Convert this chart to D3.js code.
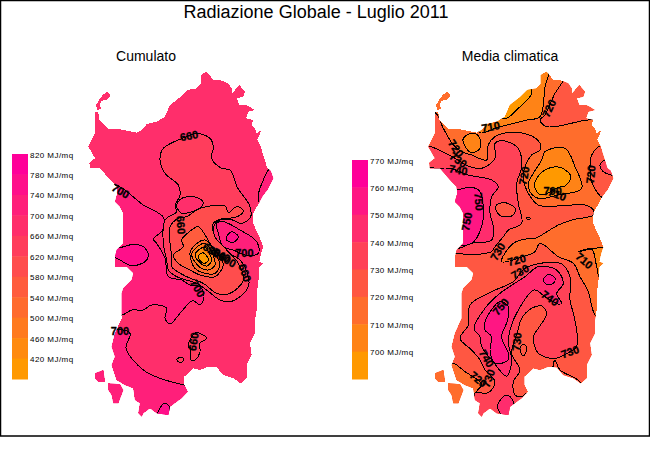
<!DOCTYPE html>
<html>
<head>
<meta charset="utf-8">
<script src="https://cdn.jsdelivr.net/npm/d3@7"></script>
<style>
    html, body { margin: 0; padding: 0; background: white; }
    svg { display: block; font-family: "Liberation Sans", Arial, sans-serif; }
    .isoline { stroke: black; stroke-width: 1; stroke-linejoin: round; shape-rendering: crispEdges; }
    .land { shape-rendering: crispEdges; }
    .contour-label { font-size: 11px; font-weight: bold; text-anchor: middle; dominant-baseline: central; stroke: black; stroke-width: 0.3; }
    .legend-label { font-size: 8px; letter-spacing: 0.45px; dominant-baseline: central; }
</style>
</head>
<body>
<div id="chart"></div>
<script>
const title = "Radiazione Globale - Luglio 2011";
const panelTitles = ["Cumulato", "Media climatica"];
const unit = "MJ/mq";

// legend ticks, top to bottom
const cumulatoTicks = [820, 780, 740, 700, 660, 620, 580, 540, 500, 460, 420];
const climaTicks = [770, 760, 750, 740, 730, 720, 710, 700];

// coast outlines, in map units (3 units = 1 screen pixel)
const coastMain = [[285,95],[295,97],[297,120],[312,135],[325,148],[360,148],[410,158],[428,148],[440,132],[470,125],[495,110],[510,75],[540,52],[562,30],[590,25],[602,12],[602,-15],[620,-25],[640,0],[660,0],[685,10],[695,25],[695,42],[718,15],[735,35],[730,50],[710,55],[718,75],[735,75],[745,78],[765,90],[745,95],[738,115],[760,120],[755,135],[765,145],[770,160],[785,150],[772,178],[782,200],[792,232],[802,265],[812,272],[820,295],[802,330],[790,345],[775,372],[760,400],[760,432],[778,470],[790,500],[782,525],[778,545],[790,550],[778,560],[775,610],[770,640],[770,690],[765,720],[765,760],[750,790],[755,825],[740,855],[740,895],[722,910],[700,895],[670,885],[650,862],[625,860],[600,870],[580,865],[553,890],[553,915],[563,935],[545,955],[530,965],[510,980],[505,1005],[470,1000],[450,985],[430,1000],[425,1010],[415,1000],[420,970],[405,960],[400,925],[375,915],[350,900],[335,855],[345,830],[335,800],[345,760],[365,715],[365,640],[370,625],[395,600],[400,580],[380,560],[345,560],[345,530],[350,510],[370,490],[370,400],[360,380],[345,365],[352,340],[350,320],[335,305],[300,265],[270,265],[268,248],[285,235],[265,200],[285,160]];
const coastAsinara = [[308,45],[322,34],[332,48],[320,60],[305,62],[298,75],[304,85],[292,90],[288,75],[296,62]];
const coastSanPietro = [[285,880],[310,870],[315,905],[295,905],[285,895]];
const coastAntioco = [[325,910],[360,913],[370,930],[355,970],[340,970],[335,945],[325,930]];
const coasts = [coastMain, coastAsinara, coastSanPietro, coastAntioco];

// Cumulato: radiation inside each isoline, painted in order over the base value
const cumulatoBase = 680;
const cumulatoValues = [720, 720, 720, 760, 760, 640, 640, 640, 680, 720, 760, 600, 560, 520, 480, 440, 400];
const cumulatoRings = [
    [[345,315],[430,375],[490,412],[488,450],[460,478],[470,490],[495,535],[505,590],[545,600],[570,615],[600,620],[612,650],[600,675],[578,662],[540,700],[510,732],[495,715],[500,685],[455,675],[430,690],[395,690],[367,705],[320,705],[250,500],[300,340]],
    [[340,750],[390,760],[378,805],[430,870],[480,895],[553,915],[620,930],[640,1050],[300,1050],[270,800]],
    [[808,268],[790,300],[775,345],[780,372],[850,380],[850,268]],
    [[475,995],[490,972],[505,975],[507,1010],[470,1015]],
    [[445,525],[435,545],[395,557],[360,540],[335,525],[335,505],[360,503],[395,494],[430,500]],
    [[555,172],[590,160],[630,175],[640,200],[635,235],[665,265],[690,270],[712,322],[748,375],[752,410],[725,430],[690,418],[650,425],[640,450],[650,500],[720,540],[745,590],[745,620],[720,650],[690,665],[660,660],[620,630],[590,610],[530,590],[505,570],[500,540],[490,490],[495,420],[530,395],[525,378],[540,345],[535,315],[495,280],[480,240],[490,205]],
    [[590,758],[620,775],[600,790],[600,815],[585,840],[572,840],[572,805],[565,800],[575,770]],
    [[530,838],[545,832],[552,840],[540,848]],
    [[530,378],[545,355],[590,352],[610,368],[598,385],[565,398],[545,400]],
    [[655,460],[650,430],[670,425],[720,450],[770,485],[775,520],[735,525],[700,510],[670,500]],
    [[680,470],[695,455],[715,470],[700,487],[680,480]],
    [[560,410],[600,385],[675,378],[685,398],[710,380],[730,392],[712,410],[660,418],[640,430],[645,470],[680,510],[715,550],[730,600],[690,640],[650,640],[610,610],[560,590],[515,560],[515,530],[510,490],[510,440],[535,415]],
    [[550,500],[545,480],[575,450],[595,440],[630,490],[640,505],[660,530],[670,555],[645,590],[600,585],[570,570],[535,550],[520,525]],
    [[570,520],[585,495],[615,480],[635,500],[650,530],[660,555],[645,580],[615,580],[585,565]],
    [[575,525],[590,502],[615,490],[632,510],[642,535],[645,555],[625,570],[600,562]],
    [[585,525],[598,508],[615,502],[628,520],[635,542],[620,558],[600,548]],
    [[595,530],[608,518],[620,528],[625,542],[612,550],[600,542]]
];
const cumulatoLabels = ["660", "700", "660", "700", "700", "660", "700", "660", "620", "580", "540", "500"];
const cumulatoLabelSpots = [[567,167],[362,333],[543,435],[360,753],[593,625],[735,578],[733,520],[580,785],[635,510],[650,520],[665,525],[682,540]];
const cumulatoLabelAngles = [-10, 30, 85, 0, 60, 70, 0, -80, 30, 30, 30, 30];

// Media climatica
const climaBase = 715;
const climaValues = [705, 695, 705, 725, 725, 735, 725, 745, 755, 705, 695, 725, 735, 725, 735, 725, 745, 755, 755, 745, 725, 715, 705];
const climaRings = [
    [[465,158],[515,143],[585,125],[605,120],[645,110],[660,20],[670,-30],[560,-30],[450,100]],
    [[620,25],[618,45],[580,85],[545,115],[530,115],[500,50],[600,0]],
    [[415,175],[440,160],[462,170],[465,205],[440,218],[418,195]],
    [[715,0],[690,40],[660,105],[645,120],[665,140],[775,122],[810,118],[900,118],[850,-40],[720,-40]],
    [[330,98],[355,145],[385,195],[410,215],[440,225],[485,240],[490,195],[510,170],[560,157],[620,168],[645,190],[645,210],[620,225],[600,260],[595,295],[610,340],[640,375],[700,378],[780,375],[805,390],[805,405],[740,420],[700,435],[650,465],[630,475],[615,475],[565,490],[530,545],[595,530],[630,515],[645,490],[700,530],[745,550],[765,590],[790,635],[815,710],[900,710],[900,1100],[250,1100],[250,98]],
    [[312,198],[385,232],[430,258],[470,265],[510,235],[510,190],[530,182],[560,190],[580,205],[590,260],[575,310],[580,370],[590,430],[550,450],[535,470],[510,500],[500,515],[480,520],[440,525],[395,520],[300,520],[300,198]],
    [[515,375],[540,368],[570,385],[565,405],[535,410],[515,395]],
    [[335,265],[375,265],[430,285],[500,300],[520,320],[500,350],[495,400],[505,440],[500,480],[440,490],[400,505],[300,505],[300,265]],
    [[395,330],[440,322],[465,335],[475,385],[470,440],[440,490],[380,490],[380,330]],
    [[660,215],[720,205],[750,260],[770,325],[700,345],[640,355],[615,335],[610,310],[650,240]],
    [[630,305],[660,270],[705,262],[738,290],[720,318],[700,322],[650,345],[630,325]],
    [[830,195],[800,225],[795,265],[800,305],[835,355],[900,355],[900,195]],
    [[840,240],[825,255],[835,275],[858,285],[880,285],[880,240]],
    [[690,840],[705,870],[765,905],[790,960],[690,960]],
    [[405,775],[430,735],[435,675],[500,635],[565,605],[600,565],[660,548],[710,552],[735,590],[735,660],[745,700],[755,750],[755,800],[735,815],[690,835],[640,820],[625,770],[640,745],[665,700],[650,678],[620,685],[590,715],[578,755],[560,820],[585,870],[565,905],[570,945],[590,950],[605,940],[630,1060],[440,1060],[440,970],[448,940],[490,938],[510,905],[480,870],[465,840],[440,810]],
    [[585,805],[597,792],[606,807],[595,828]],
    [[640,560],[695,570],[715,610],[695,640],[710,670],[700,672],[660,650],[628,630],[580,690],[555,750],[550,790],[560,840],[545,888],[500,840],[470,800],[465,770],[447,745],[480,685],[525,640],[600,590]],
    [[480,725],[525,665],[550,680],[548,720],[530,770],[550,820],[550,840],[510,850],[495,810],[500,770],[480,750]],
    [[655,600],[670,583],[690,595],[685,610],[665,613]],
    [[545,945],[565,965],[568,990],[550,1007],[530,1005],[518,975]],
    [[610,412],[616,415],[610,418],[604,415]],
    [[385,850],[420,875],[465,905],[470,915],[450,940],[440,975],[400,1020],[300,1020],[300,850]],
    [[760,515],[800,508],[815,560],[825,595],[880,595],[880,505]]
];
const climaLabels = ["720", "710", "720", "730", "740", "750", "750", "720", "700", "710", "720", "730", "720", "730", "710", "740", "750", "730", "740", "730", "720", "730"];
const climaLabelSpots = [[672,85],[497,140],[393,205],[400,240],[400,270],[462,365],[425,425],[597,287],[683,333],[697,343],[797,283],[518,515],[575,540],[585,575],[778,542],[675,655],[527,680],[575,785],[485,835],[735,815],[460,898],[490,895]];
const climaLabelAngles = [-65, -10, 55, 35, 10, 85, -80, -80, 0, 20, -85, -60, -15, -30, 40, 35, -50, -85, 60, -20, 40, -70];

const svg = d3.select("#chart").append("svg")
    .attr("width", 650)
    .attr("height", 450);

// frame
svg.append("rect")
    .attr("x", 0.5)
    .attr("y", 0.5)
    .attr("width", 649)
    .attr("height", 435.5)
    .attr("fill", "white")
    .attr("stroke", "black")
    .attr("stroke-width", 1.5);

svg.append("text")
    .attr("x", 316)
    .attr("y", 18)
    .attr("text-anchor", "middle")
    .attr("font-size", 18)
    .text(title);

function binColours(n) {
    // top of the legend first
    return d3.range(n).map(i => d3.interpolateRgb("#ff0099", "#ff9900")(i / (n - 1)));
}

function drawPanel(opts) {
    const colours = binColours(opts.ticks.length);
    const colour = d3.scaleThreshold()
        .domain(opts.ticks.slice().reverse().slice(0, -1))
        .range(colours.slice().reverse());

    const coastLine = d3.line()
        .x(d => opts.xCoast(d[0]))
        .y(d => opts.y(d[1]))
        .curve(d3.curveLinearClosed);

    const ringLine = d3.line()
        .x(d => opts.xRing(d[0]))
        .y(d => opts.y(d[1]))
        .curve(d3.curveCatmullRomClosed.alpha(0.5));

    const g = svg.append("g");

    g.append("text")
        .attr("x", opts.titleX)
        .attr("y", 61)
        .attr("text-anchor", "middle")
        .attr("font-size", 14)
        .text(opts.title);

    // legend
    const band = d3.scaleBand()
        .domain(opts.ticks)
        .range([opts.legendTop, 379]);

    g.selectAll(".legend-bin")
        .data(opts.ticks)
        .join("rect")
        .attr("class", "legend-bin")
        .attr("x", opts.legendX)
        .attr("y", d => band(d))
        .attr("width", 16)
        .attr("height", band.bandwidth() + 0.5)
        .attr("fill", (d, i) => colours[i]);

    g.selectAll(".legend-label")
        .data(opts.ticks)
        .join("text")
        .attr("class", "legend-label")
        .attr("x", opts.legendX + 18)
        .attr("y", d => band(d) + 1)
        .text(d => d + " " + unit);

    // island
    g.append("clipPath")
        .attr("id", opts.id + "-clip")
        .selectAll("path")
        .data(coasts)
        .join("path")
        .attr("d", coastLine);

    g.selectAll(".land")
        .data(coasts)
        .join("path")
        .attr("class", "land")
        .attr("d", coastLine)
        .attr("fill", colour(opts.base));

    g.append("g")
        .attr("clip-path", "url(#" + opts.id + "-clip)")
        .selectAll(".isoline")
        .data(opts.rings)
        .join("path")
        .attr("class", "isoline")
        .attr("d", ringLine)
        .attr("fill", (d, i) => colour(opts.values[i]));

    g.selectAll(".contour-label")
        .data(opts.labels)
        .join("text")
        .attr("class", "contour-label")
        .attr("transform", (d, i) => {
            const p = opts.spots[i];
            return "translate(" + opts.xRing(p[0]) + "," + opts.y(p[1]) + ") rotate(" + opts.angles[i] + ")";
        })
        .text(d => d);
}

const y = d3.scaleLinear().domain([0, 1080]).range([80, 440]);
const xLeft = d3.scaleLinear().domain([0, 975]).range([0, 325]);

drawPanel({
    id: "cumulato",
    title: panelTitles[0],
    titleX: 146,
    ticks: cumulatoTicks,
    base: cumulatoBase,
    values: cumulatoValues,
    rings: cumulatoRings,
    labels: cumulatoLabels,
    spots: cumulatoLabelSpots,
    angles: cumulatoLabelAngles,
    legendX: 12,
    legendTop: 154,
    xCoast: xLeft,
    xRing: xLeft,
    y: y
});

drawPanel({
    id: "clima",
    title: panelTitles[1],
    titleX: 510,
    ticks: climaTicks,
    base: climaBase,
    values: climaValues,
    rings: climaRings,
    labels: climaLabels,
    spots: climaLabelSpots,
    angles: climaLabelAngles,
    legendX: 352,
    legendTop: 160,
    xCoast: d3.scaleLinear().domain([-45, 930]).range([325, 650]),
    xRing: d3.scaleLinear().domain([0, 975]).range([325, 650]),
    y: y
});
</script>
</body>
</html>
